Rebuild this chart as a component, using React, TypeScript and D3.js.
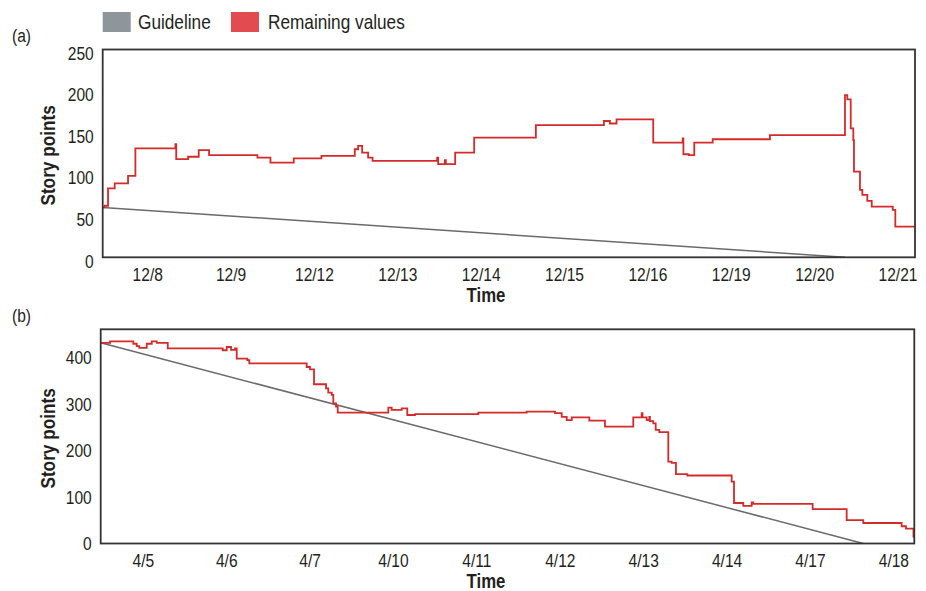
import React from "react";
import * as d3 from "d3";

// ---------- Data ----------
const dayLabelsA = ["12/8", "12/9", "12/12", "12/13", "12/14", "12/15", "12/16", "12/19", "12/20", "12/21"];
const dayLabelsB = ["4/5", "4/6", "4/7", "4/10", "4/11", "4/12", "4/13", "4/14", "4/17", "4/18"];

// time in working-day units (0 = first labelled day), value = remaining story points (step after)
const timesA = [-0.54, -0.516, -0.476, -0.396, -0.236, -0.148, 0.332, 0.342, 0.484, 0.612, 0.736, 1.316, 1.472, 1.752, 2.084, 2.484, 2.524, 2.572, 2.644, 2.697, 3.472, 3.484, 3.564, 3.576, 3.688, 3.916, 4.656, 5.472, 5.544, 5.624, 6.064, 6.417, 6.426, 6.492, 6.556, 6.777, 7.464, 8.364, 8.392, 8.433, 8.464, 8.472, 8.544, 8.572, 8.632, 8.685, 8.937, 8.968, 9.204];
const remainingA = [60, 62, 83, 89, 98, 131, 136, 118, 121, 129, 123, 120, 114, 119, 122, 130, 134, 126, 120, 116, 120, 112, 117, 112, 126, 144, 159, 164, 161, 166, 138, 143, 124, 123, 138, 142, 147, 195, 190, 155, 141, 103, 81, 75, 68, 61, 57, 37, 37];
const guideTimesA = [-0.54, 8.364];
const guideValuesA = [60, 0];
const yTicksA = [0, 50, 100, 150, 200, 250];

const timesB = [-0.511, -0.399, -0.12, -0.079, -0.048, 0.041, 0.101, 0.161, 0.293, 0.952, 1.0, 1.052, 1.1, 1.12, 1.247, 1.271, 1.959, 1.999, 2.047, 2.191, 2.218, 2.259, 2.278, 2.311, 2.331, 2.938, 2.978, 3.098, 3.165, 3.258, 4.017, 4.597, 4.937, 5.017, 5.077, 5.137, 5.348, 5.536, 5.875, 5.976, 5.986, 6.036, 6.067, 6.075, 6.115, 6.144, 6.187, 6.295, 6.335, 6.387, 6.523, 7.055, 7.083, 7.194, 7.295, 7.314, 8.026, 8.434, 8.633, 9.093, 9.145, 9.235, 9.245];
const remainingB = [431, 434, 429, 424, 420, 429, 434, 431, 419, 415, 422, 416, 419, 397, 394, 387, 379, 374, 342, 333, 324, 319, 301, 294, 281, 292, 287, 290, 276, 278, 281, 283, 280, 272, 265, 271, 264, 251, 271, 280, 271, 265, 272, 263, 258, 244, 239, 176, 173, 149, 146, 133, 87, 81, 88, 85, 74, 50, 44, 37, 32, 15, 15];
const guideTimesB = [-0.511, 8.633];
const guideValuesB = [431, 0];
const yTicksB = [0, 100, 200, 300, 400];

const legendLabels = ["Guideline", "Remaining values"];
const legendColors = ["#8e959b", "#e24b4f"];

const FONT = "'Liberation Sans', Arial, sans-serif";
const TEXT = "#231f20";
const RED = "#d52a2a";
const GRAY = "#6a6a6a";
const NARROW = 0.82;

type NTextProps = {
  x: number;
  y: number;
  size: number;
  anchor?: "start" | "middle" | "end";
  bold?: boolean;
  rotate?: number;
  children: React.ReactNode;
};

// Condensed text (Helvetica Condensed look) by horizontal scaling
function NText({ x, y, size, anchor = "start", bold = false, rotate = 0, children }: NTextProps) {
  return (
    <text
      transform={`translate(${x},${y})${rotate ? ` rotate(${rotate})` : ""} scale(${NARROW},1)`}
      fontSize={size}
      fontWeight={bold ? "bold" : "normal"}
      textAnchor={anchor}
      fill={TEXT}
      fontFamily={FONT}
    >
      {children}
    </text>
  );
}

type PanelProps = {
  label: string;
  labelY: number;
  dayLabels: string[];
  times: number[];
  values: number[];
  guideTimes: number[];
  guideValues: number[];
  xDomain: [number, number];
  yDomain: [number, number];
  yTicks: number[];
  left: number;
  right: number;
  top: number;
  bottom: number;
  tickLabelOffset: number;
};

function Panel(p: PanelProps) {
  const x = d3.scaleLinear().domain(p.xDomain).range([p.left, p.right]);
  const y = d3.scaleLinear().domain(p.yDomain).range([p.bottom, p.top]);
  const pts: [number, number][] = p.times.map((t, i) => [t, p.values[i]]);
  const step = d3
    .line<[number, number]>()
    .x((d) => x(d[0]))
    .y((d) => y(d[1]))
    .curve(d3.curveStepAfter);
  const straight = d3
    .line<[number, number]>()
    .x((d) => x(d[0]))
    .y((d) => y(d[1]));
  const guidePts: [number, number][] = p.guideTimes.map((t, i) => [t, p.guideValues[i]]);
  const midY = (p.top + p.bottom) / 2;
  return (
    <g>
      <NText x={12} y={p.labelY} size={19}>
        {p.label}
      </NText>
      {p.yTicks.map((v) => (
        <NText key={v} x={p.left - 9} y={y(v) + p.tickLabelOffset + 6.8} size={19} anchor="end">
          {v}
        </NText>
      ))}
      {p.dayLabels.map((d, i) => (
        <NText key={d} x={x(i)} y={p.bottom + 23.5} size={19} anchor="middle">
          {d}
        </NText>
      ))}
      <path d={straight(guidePts) || ""} fill="none" stroke={GRAY} strokeWidth={1.5} />
      <path d={step(pts) || ""} fill="none" stroke={RED} strokeWidth={1.8} strokeLinejoin="miter" />
      <rect
        x={p.left}
        y={p.top}
        width={p.right - p.left}
        height={p.bottom - p.top}
        fill="none"
        stroke="#333"
        strokeWidth={1.8}
      />
      <NText x={486} y={p.bottom + 44.5} size={20.5} anchor="middle" bold>
        Time
      </NText>
      <NText x={55} y={midY + 2} size={21} anchor="middle" bold rotate={-90}>
        Story points
      </NText>
    </g>
  );
}

export default function App() {
  return (
    <svg
      width={926}
      height={591}
      style={{ position: "absolute", left: 0, top: 0, background: "#fff" }}
    >
      <rect x={0} y={0} width={926} height={591} fill="#fff" />
      {/* Legend */}
      <rect x={102.7} y={12} width={28} height={20} fill={legendColors[0]} />
      <NText x={138} y={28.5} size={21}>
        {legendLabels[0]}
      </NText>
      <rect x={231} y={12} width={28} height={20} fill={legendColors[1]} />
      <NText x={268} y={28.5} size={21}>
        {legendLabels[1]}
      </NText>

      <Panel
        label="(a)"
        labelY={42}
        dayLabels={dayLabelsA}
        times={timesA}
        values={remainingA}
        guideTimes={guideTimesA}
        guideValues={guideValuesA}
        xDomain={[-0.54, 9.204]}
        yDomain={[0, 250]}
        yTicks={yTicksA}
        left={102.7}
        right={915}
        top={49.5}
        bottom={257.3}
        tickLabelOffset={3.5}
      />
      <Panel
        label="(b)"
        labelY={322}
        dayLabels={dayLabelsB}
        times={timesB}
        values={remainingB}
        guideTimes={guideTimesB}
        guideValues={guideValuesB}
        xDomain={[-0.511, 9.245]}
        yDomain={[0, 460]}
        yTicks={yTicksB}
        left={100.7}
        right={914.3}
        top={329.3}
        bottom={543.5}
        tickLabelOffset={0}
      />
    </svg>
  );
}
